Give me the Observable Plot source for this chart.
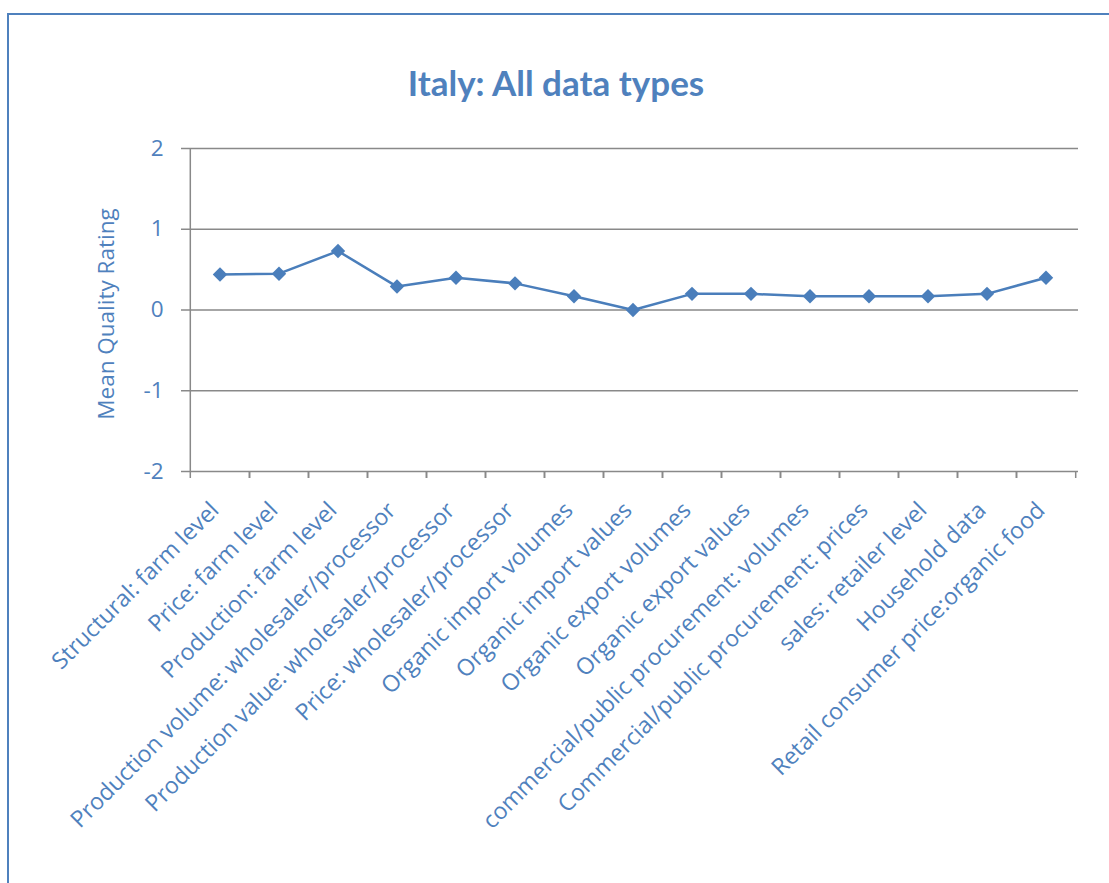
<!DOCTYPE html>
<html>
<head>
<meta charset="utf-8">
<script src="https://cdn.jsdelivr.net/npm/d3@7"></script>
<script src="https://cdn.jsdelivr.net/npm/@observablehq/plot@0.6"></script>
<style>
  html, body { margin: 0; padding: 0; background: #fff; overflow: hidden; }
  #page { position: relative; width: 1109px; height: 883px; overflow: hidden; }
  #frame { position: absolute; left: 7px; top: 13px; width: 1300px; height: 1100px;
           border-left: 2.5px solid #4f81bd; border-top: 2.5px solid #4f81bd; box-sizing: border-box; }
  #title { position: absolute; left: 0; width: 1112px; top: 61px; text-align: center;
           font-family: Lato, "Open Sans", sans-serif; font-weight: bold; font-size: 35px; color: #4f81bd; }
  #chart { position: absolute; left: 0; top: 0; }
  #chart svg text { font-size: 22.5px; }
  #chart svg g.xlab text { font-size: 23.1px; }
</style>
</head>
<body>
<div id="page">
  <div id="frame"></div>
  <div id="title">Italy: All data types</div>
  <div id="chart"></div>
</div>
<script>
const categories = [
  "Structural: farm level",
  "Price: farm level",
  "Production: farm level",
  "Production volume: wholesaler/processor",
  "Production value: wholesaler/processor",
  "Price: wholesaler/processor",
  "Organic import volumes",
  "Organic import values",
  "Organic export volumes",
  "Organic export values",
  "commercial/public procurement: volumes",
  "Commercial/public procurement: prices",
  "sales: retailer level",
  "Household data",
  "Retail consumer price:organic food"
];
const values = [0.44, 0.45, 0.73, 0.29, 0.40, 0.33, 0.17, 0.00, 0.20, 0.20, 0.17, 0.17, 0.17, 0.20, 0.40];
const yTicks = [-2, -1, 0, 1, 2];
const yLabel = "Mean Quality Rating";

const data = categories.map((c, i) => ({category: c, value: values[i]}));
const half = (1109 - 187 - 31) / categories.length / 2;
const lineColor = "#4a7ebb";
const gridColor = "#898989";
const textColor = "#4f81bd";

const chart = Plot.plot({
  width: 1109,
  height: 883,
  marginLeft: 187,
  marginRight: 31,
  marginTop: 148,
  marginBottom: 412,
  x: {type: "band", domain: categories, padding: 0, label: null},
  y: {domain: [-2, 2], label: null},
  style: {fontFamily: "'Open Sans', sans-serif", fontSize: "22.5px", color: textColor, background: "transparent", overflow: "visible"},
  marks: [
    Plot.ruleY(yTicks, {stroke: gridColor, strokeWidth: 1.5}),
    Plot.ruleX([categories[0]], {dx: -half, y1: -2, y2: 2, stroke: gridColor, strokeWidth: 1.5}),
    Plot.axisY(yTicks, {tickSize: 6, tickPadding: 18, stroke: gridColor, strokeWidth: 1.5, tickFormat: d => String(d), label: null, fill: textColor}),
    Plot.axisX({tickSize: 7, tickFormat: () => "", dx: -half, stroke: gridColor, strokeWidth: 1.5, label: null}),
    Plot.axisX({tickSize: 7, tickFormat: () => "", dx: half, stroke: gridColor, strokeWidth: 1.5, label: null}),
    Plot.axisX({tickSize: 0, tickRotate: -45, tickPadding: 35, dx: -5, label: null, fill: textColor, className: "xlab"}),
    Plot.text([yLabel], {frameAnchor: "left", textAnchor: "middle", text: d => d, rotate: -90, dx: -81, dy: 4, fill: textColor}),
    Plot.line(data, {x: "category", y: "value", stroke: lineColor, strokeWidth: 2.5}),
    Plot.dot(data, {x: "category", y: "value", symbol: "diamond2", r: 6.5, fill: lineColor, stroke: "none"})
  ]
});
chart.querySelectorAll("g").forEach(g => {
  if (g.getAttribute("class") && g.getAttribute("class").includes("xlab")) g.classList.add("xlab");
});
document.getElementById("chart").appendChild(chart);
</script>
</body>
</html>
